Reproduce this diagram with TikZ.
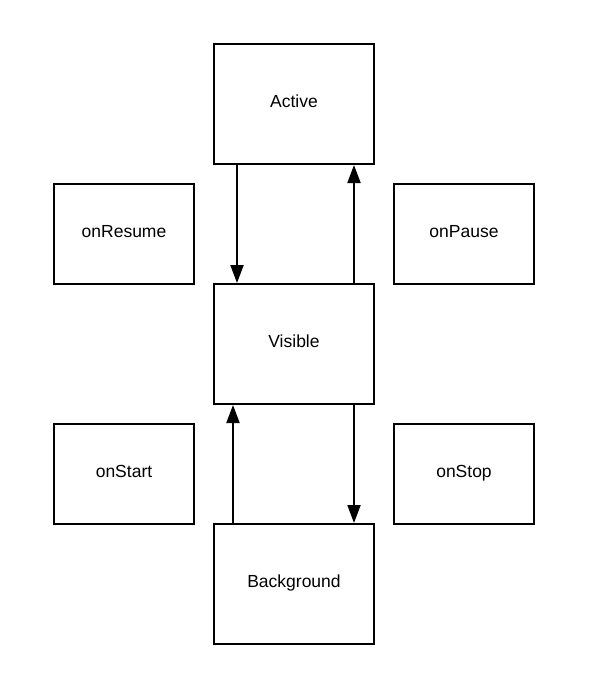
\documentclass[tikz,border=0pt]{standalone}
\usepackage{fontspec}
\setmainfont{Liberation Sans}
\usetikzlibrary{arrows.meta}

\begin{document}
\begin{tikzpicture}[x=1pt, y=-1pt,
		statebox/.style = {draw, line width=2pt, minimum width=160pt, minimum height=120pt,
			font=\fontsize{17.5}{20}\selectfont, text depth=6pt},
		callbox/.style = {statebox, minimum width=140pt, minimum height=100pt},
		trans/.style = {line width=2pt, -{Triangle[width=13pt, length=18pt]}}]
		
		\useasboundingbox (0, 0) rectangle (593, 681);
		
		\node[statebox] (active) at (294, 104) {Active};
		\node[statebox] (visible) at (294, 344) {Visible};
		\node[statebox] (background) at (294, 584) {Background};
		
		\node[callbox] (onresume) at (124, 234) {onResume};
		\node[callbox] (onpause) at (464, 234) {onPause};
		\node[callbox] (onstart) at (124, 474) {onStart};
		\node[callbox] (onstop) at (464, 474) {onStop};
		
		\draw[trans] ([xshift=-57pt]active.south) -- ([xshift=-57pt]visible.north);
		\draw[trans] ([xshift=60pt]visible.north) -- ([xshift=60pt]active.south);
		
		\draw[trans] ([xshift=-61pt]background.north) -- ([xshift=-61pt]visible.south);
		\draw[trans] ([xshift=60pt]visible.south) -- ([xshift=60pt]background.north);
		
	\end{tikzpicture}
\end{document}
